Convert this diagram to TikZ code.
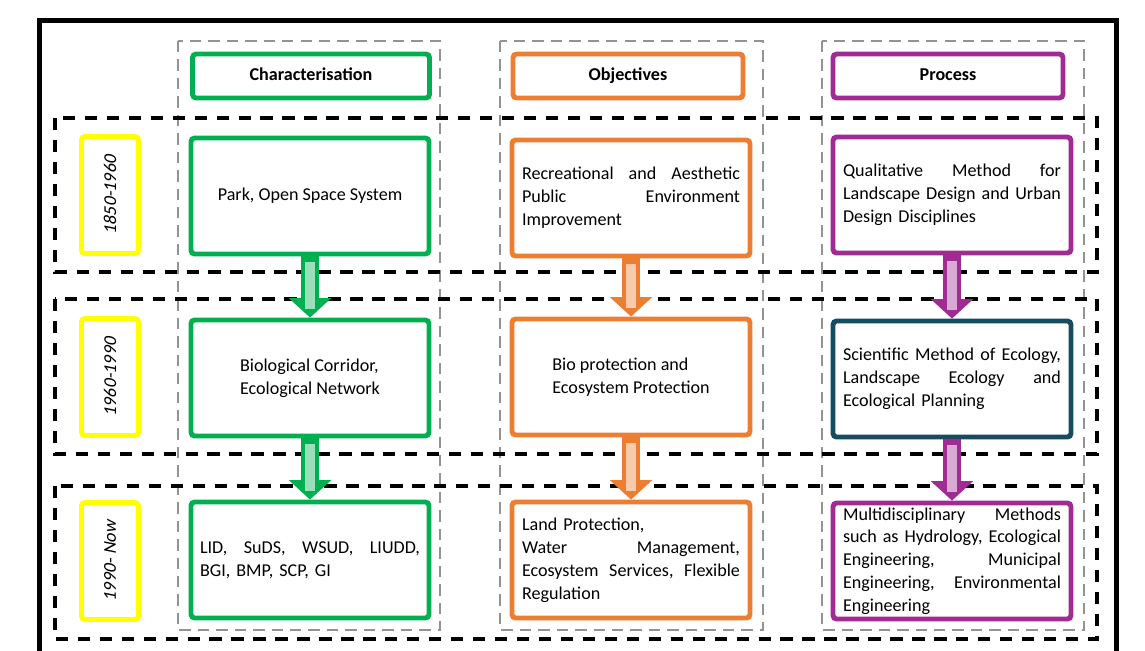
\documentclass[tikz,border=0pt]{standalone}
\usepackage{fontspec}
\setmainfont{Carlito}
\newfontfamily\erafont[FakeSlant=0.2]{Carlito}
\usetikzlibrary{arrows.meta}

\definecolor{chargreen}{RGB}{0,176,80}
\definecolor{objorange}{RGB}{237,125,49}
\definecolor{procpurple}{RGB}{160,43,147}
\definecolor{procteal}{RGB}{22,75,96}
\definecolor{erayellow}{RGB}{255,255,0}

\tikzset{
  colbox/.style={draw=#1, line width=2.8pt, rounded corners=2pt, fill=white, inner sep=0pt,
    minimum width=4.76cm, minimum height=2.32cm, font=\fontsize{10.3}{13}\selectfont},
  headbox/.style={colbox=#1, minimum height=0.88cm, text height=7.5pt, text depth=2.5pt,
    font=\fontsize{10.3}{12}\selectfont\bfseries},
  erabox/.style={colbox=erayellow, minimum width=2.34cm, minimum height=1.14cm, rotate=90,
    font=\fontsize{10.3}{12}\erafont},
  justtext/.style={text width=4.36cm, align=left},
  colframe/.style={draw=gray!85, line width=1.5pt, dash pattern=on 6.5pt off 4pt},
  rowframe/.style={draw=black, line width=1.9pt, dash pattern=on 7pt off 5.5pt},
  fatarrow/.style={draw=#1, line width=10.5pt, -{Triangle[width=24pt,length=11pt,line width=0pt]}},
  arrowcore/.style={draw=#1!40, line width=6pt, shorten <=3pt, shorten >=5pt},
}

\begin{document}
\begin{tikzpicture}[x=0.02cm, y=-0.02cm]
    \useasboundingbox (0,0) rectangle (1145,650);
    % outer frame (open at the bottom)
    \draw[line width=2.3pt] (39.5,670) |- (1116.5,20.5) -- (1116.5,670);

    % column and period frames
    \draw[colframe] (178,41) rectangle (440,630);
    \draw[colframe] (500,41) rectangle (763,630);
    \draw[colframe] (822,41) rectangle (1084,630);
    \draw[rowframe] (55,118) rectangle (1097,272);
    \draw[rowframe] (55,299) rectangle (1097,454);
    \draw[rowframe] (55,486) rectangle (1097,639);

    % headers
    \node[headbox=chargreen, minimum width=4.74cm] (hchar) at (311,76) {Characterisation};
    \node[headbox=objorange, minimum width=4.6cm] (hobj) at (628,76) {Objectives};
    \node[headbox=procpurple, minimum width=4.6cm] (hproc) at (948,76) {Process};

    % periods
    \node[erabox] (e1) at (110,195) {1850-1960};
    \node[erabox] (e2) at (110,377) {1960-1990};
    \node[erabox] (e3) at (110,561) {1990- Now};

    % characterisation
    \node[colbox=chargreen] (c1) at (310,196) {Park, Open Space System};
    \node[colbox=chargreen, align=left] (c2) at (310,378) {Biological Corridor,\\Ecological Network};
    \node[colbox=chargreen, justtext, text width=4.4cm] (c3) at (310,560)
        {LID,\hfill SuDS,\hfill WSUD,\hfill LIUDD,\\BGI, BMP, SCP, GI};

    % objectives
    \node[colbox=objorange, justtext] (o1) at (631,198)
        {Recreational\hfill and\hfill Aesthetic\\Public\hfill Environment\\Improvement};
    \node[colbox=objorange, align=left] (o2) at (631,377) {Bio protection and\\Ecosystem Protection};
    \node[colbox=objorange, justtext] (o3) at (631,560)
        {Land Protection,\\Water\hfill Management,\\Ecosystem\hfill Services,\hfill Flexible\\Regulation};

    % process
    \node[colbox=procpurple, justtext] (p1) at (952,195)
        {Qualitative\hfill Method\hfill for\\Landscape\hfill Design\hfill and\hfill Urban\\Design Disciplines};
    \node[colbox=procteal, justtext] (p2) at (952,379)
        {Scientific\hfill Method\hfill of\hfill Ecology,\\Landscape\hfill Ecology\hfill and\\Ecological Planning};
    \node[colbox=procpurple, justtext] (p3) at (952,561)
        {Multidisciplinary\hfill Methods\\such\hfill as\hfill Hydrology,\hfill Ecological\\Engineering,\hfill Municipal\\Engineering,\hfill Environmental\\Engineering};

    % block arrows between periods
    \path
        (c1) edge[fatarrow=chargreen] (c2)
        (c2) edge[fatarrow=chargreen] (c3)
        (o1) edge[fatarrow=objorange] (o2)
        (o2) edge[fatarrow=objorange] (o3)
        (p1) edge[fatarrow=procpurple] (p2)
        (p2) edge[fatarrow=procpurple] (p3);
    \path
        (c1) edge[arrowcore=chargreen] (c2)
        (c2) edge[arrowcore=chargreen] (c3)
        (o1) edge[arrowcore=objorange] (o2)
        (o2) edge[arrowcore=objorange] (o3)
        (p1) edge[arrowcore=procpurple] (p2)
        (p2) edge[arrowcore=procpurple] (p3);
\end{tikzpicture}
\end{document}
